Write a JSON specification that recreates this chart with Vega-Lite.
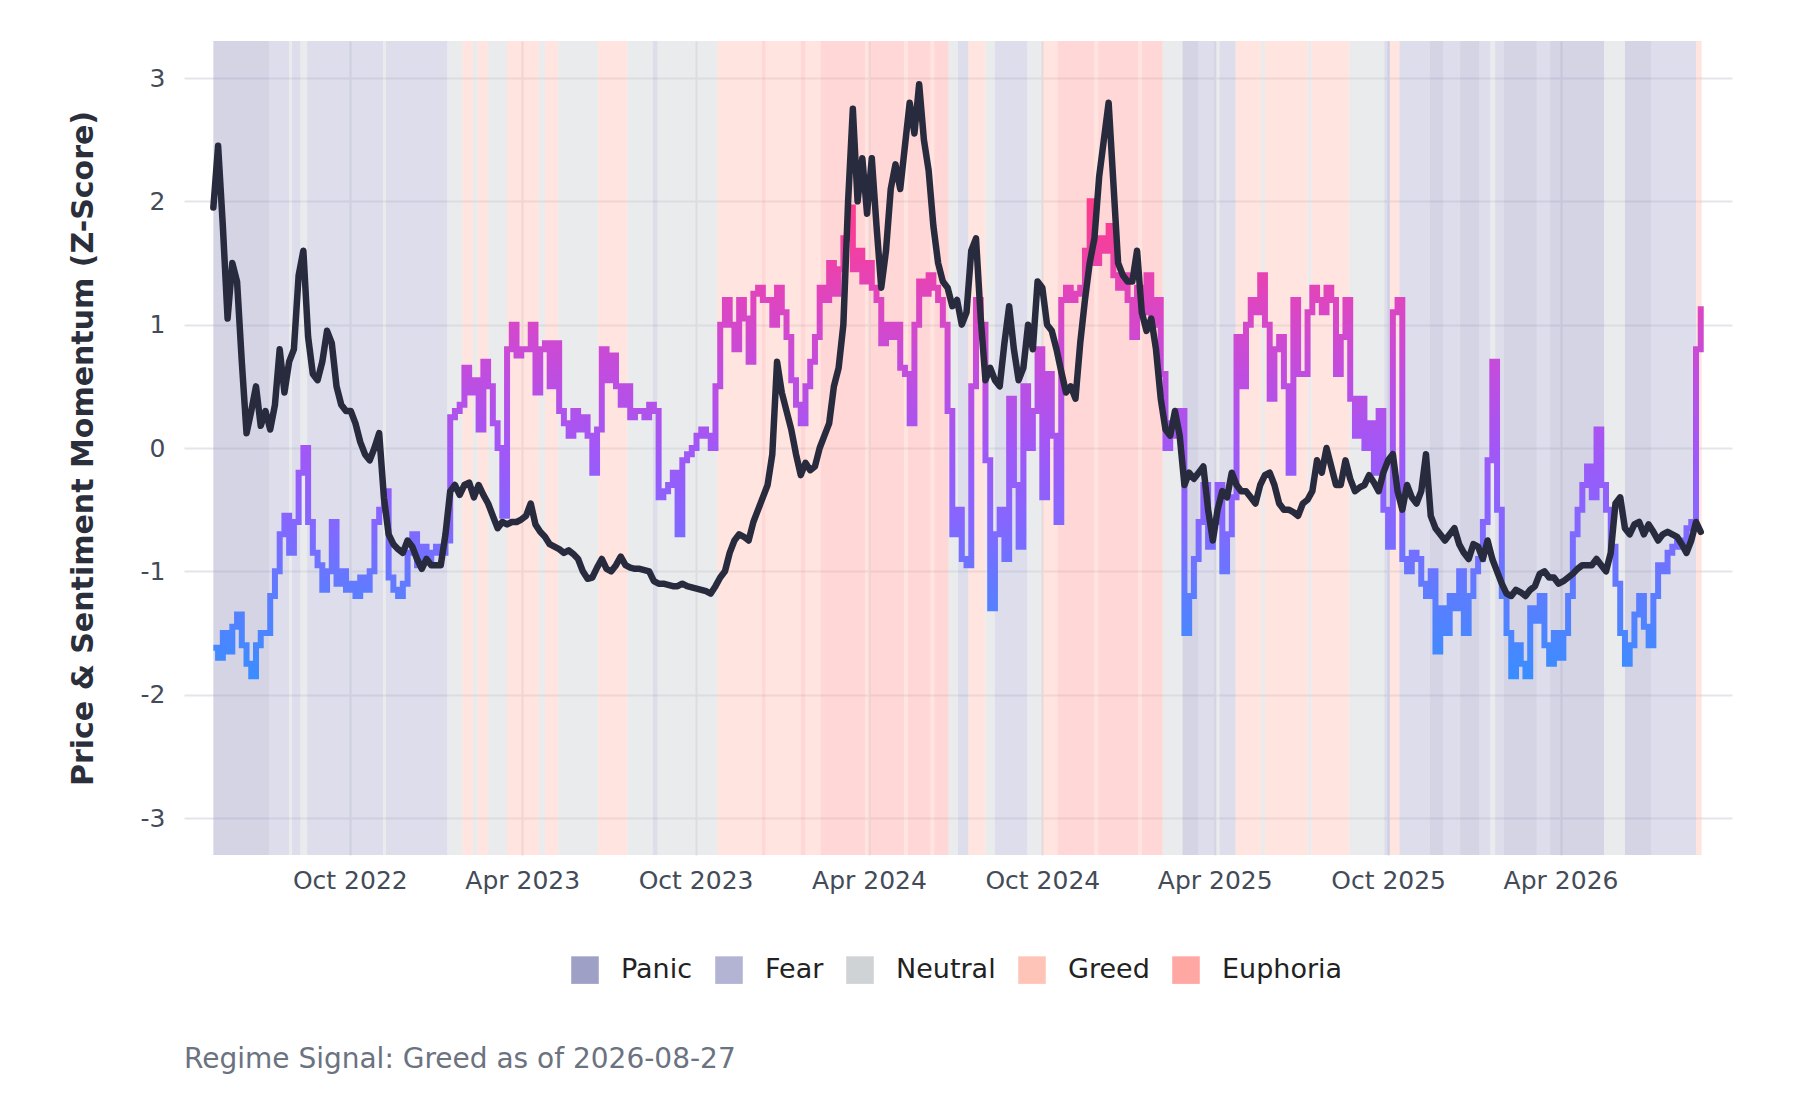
{
  "$schema": "https://vega.github.io/schema/vega-lite/v6.json",
  "width": 1548,
  "height": 814,
  "autosize": {"type": "none"},
  "padding": {"left": 184, "top": 41, "right": 68, "bottom": 245},
  "background": "white",
  "title": {
    "text": "Regime Signal: Greed as of 2026-08-27",
    "orient": "bottom", "anchor": "start", "frame": "group", "offset": 62,
    "fontSize": 28, "fontWeight": "normal", "color": "#6b7280", "font": "DejaVu Sans"
  },
  "datasets": {
    "series": [
      {"d":"2022-05-10","p":1.95,"s":-1.62},{"d":"2022-05-15","p":2.45,"s":-1.7},{"d":"2022-05-20","p":1.8,"s":-1.5},{"d":"2022-05-25","p":1.05,"s":-1.65},{"d":"2022-05-30","p":1.5,"s":-1.45},
      {"d":"2022-06-04","p":1.35,"s":-1.35},{"d":"2022-06-09","p":0.7,"s":-1.6},{"d":"2022-06-14","p":0.12,"s":-1.75},{"d":"2022-06-19","p":0.3,"s":-1.85},{"d":"2022-06-24","p":0.5,"s":-1.6},{"d":"2022-06-29","p":0.18,"s":-1.5},
      {"d":"2022-07-04","p":0.3,"s":-1.5},{"d":"2022-07-09","p":0.15,"s":-1.2},{"d":"2022-07-14","p":0.35,"s":-1.0},{"d":"2022-07-19","p":0.8,"s":-0.7},{"d":"2022-07-24","p":0.45,"s":-0.55},{"d":"2022-07-29","p":0.7,"s":-0.85},
      {"d":"2022-08-03","p":0.8,"s":-0.6},{"d":"2022-08-08","p":1.4,"s":-0.2},{"d":"2022-08-13","p":1.6,"s":0.0},{"d":"2022-08-18","p":0.9,"s":-0.6},{"d":"2022-08-23","p":0.6,"s":-0.85},{"d":"2022-08-28","p":0.55,"s":-0.95},
      {"d":"2022-09-02","p":0.7,"s":-1.15},{"d":"2022-09-07","p":0.95,"s":-1.0},{"d":"2022-09-12","p":0.85,"s":-0.6},{"d":"2022-09-17","p":0.5,"s":-1.1},{"d":"2022-09-22","p":0.35,"s":-1.0},{"d":"2022-09-27","p":0.3,"s":-1.15},
      {"d":"2022-10-02","p":0.3,"s":-1.1},{"d":"2022-10-07","p":0.2,"s":-1.2},{"d":"2022-10-12","p":0.05,"s":-1.05},{"d":"2022-10-17","p":-0.05,"s":-1.15},{"d":"2022-10-22","p":-0.1,"s":-1.0},{"d":"2022-10-27","p":0.0,"s":-0.6},
      {"d":"2022-11-01","p":0.12,"s":-0.5},{"d":"2022-11-06","p":-0.4,"s":-0.35},{"d":"2022-11-11","p":-0.7,"s":-1.05},{"d":"2022-11-16","p":-0.78,"s":-1.15},{"d":"2022-11-21","p":-0.82,"s":-1.2},{"d":"2022-11-26","p":-0.85,"s":-1.1},
      {"d":"2022-12-01","p":-0.75,"s":-0.85},{"d":"2022-12-06","p":-0.8,"s":-0.7},{"d":"2022-12-11","p":-0.9,"s":-0.95},{"d":"2022-12-16","p":-0.98,"s":-0.8},{"d":"2022-12-21","p":-0.9,"s":-0.9},{"d":"2022-12-26","p":-0.95,"s":-0.85},{"d":"2022-12-31","p":-0.95,"s":-0.8},
      {"d":"2023-01-05","p":-0.95,"s":-0.85},{"d":"2023-01-10","p":-0.7,"s":-0.75},{"d":"2023-01-15","p":-0.35,"s":0.25},{"d":"2023-01-20","p":-0.3,"s":0.3},{"d":"2023-01-25","p":-0.38,"s":0.35},{"d":"2023-01-30","p":-0.3,"s":0.65},
      {"d":"2023-02-04","p":-0.28,"s":0.45},{"d":"2023-02-09","p":-0.4,"s":0.55},{"d":"2023-02-14","p":-0.3,"s":0.15},{"d":"2023-02-19","p":-0.38,"s":0.7},{"d":"2023-02-24","p":-0.45,"s":0.5},
      {"d":"2023-03-01","p":-0.55,"s":0.2},{"d":"2023-03-06","p":-0.65,"s":0.0},{"d":"2023-03-11","p":-0.6,"s":-0.55},{"d":"2023-03-16","p":-0.62,"s":0.8},{"d":"2023-03-21","p":-0.6,"s":1.0},{"d":"2023-03-26","p":-0.6,"s":0.75},{"d":"2023-03-31","p":-0.58,"s":0.8},
      {"d":"2023-04-05","p":-0.55,"s":0.8},{"d":"2023-04-10","p":-0.45,"s":1.0},{"d":"2023-04-15","p":-0.62,"s":0.45},{"d":"2023-04-20","p":-0.68,"s":0.8},{"d":"2023-04-25","p":-0.72,"s":0.85},{"d":"2023-04-30","p":-0.78,"s":0.5},
      {"d":"2023-05-05","p":-0.8,"s":0.85},{"d":"2023-05-10","p":-0.82,"s":0.3},{"d":"2023-05-15","p":-0.85,"s":0.2},{"d":"2023-05-20","p":-0.83,"s":0.1},{"d":"2023-05-25","p":-0.86,"s":0.3},{"d":"2023-05-30","p":-0.9,"s":0.15},
      {"d":"2023-06-04","p":-1.0,"s":0.25},{"d":"2023-06-09","p":-1.06,"s":0.1},{"d":"2023-06-14","p":-1.05,"s":-0.2},{"d":"2023-06-19","p":-0.97,"s":0.15},{"d":"2023-06-24","p":-0.9,"s":0.8},{"d":"2023-06-29","p":-0.98,"s":0.55},
      {"d":"2023-07-04","p":-1.0,"s":0.75},{"d":"2023-07-09","p":-0.95,"s":0.5},{"d":"2023-07-14","p":-0.88,"s":0.35},{"d":"2023-07-19","p":-0.95,"s":0.5},{"d":"2023-07-24","p":-0.97,"s":0.25},{"d":"2023-07-29","p":-0.98,"s":0.3},
      {"d":"2023-08-03","p":-0.98,"s":0.3},{"d":"2023-08-08","p":-0.99,"s":0.25},{"d":"2023-08-13","p":-1.0,"s":0.35},{"d":"2023-08-18","p":-1.08,"s":0.3},{"d":"2023-08-23","p":-1.1,"s":-0.4},{"d":"2023-08-28","p":-1.1,"s":-0.35},
      {"d":"2023-09-02","p":-1.11,"s":-0.3},{"d":"2023-09-07","p":-1.12,"s":-0.2},{"d":"2023-09-12","p":-1.12,"s":-0.7},{"d":"2023-09-17","p":-1.1,"s":-0.1},{"d":"2023-09-22","p":-1.12,"s":-0.05},{"d":"2023-09-27","p":-1.13,"s":0.0},
      {"d":"2023-10-02","p":-1.14,"s":0.1},{"d":"2023-10-07","p":-1.15,"s":0.15},{"d":"2023-10-12","p":-1.16,"s":0.1},{"d":"2023-10-17","p":-1.18,"s":0.0},{"d":"2023-10-22","p":-1.12,"s":0.5},{"d":"2023-10-27","p":-1.05,"s":1.0},
      {"d":"2023-11-01","p":-1.0,"s":1.2},{"d":"2023-11-06","p":-0.85,"s":1.0},{"d":"2023-11-11","p":-0.75,"s":0.8},{"d":"2023-11-16","p":-0.7,"s":1.2},{"d":"2023-11-21","p":-0.72,"s":1.05},{"d":"2023-11-26","p":-0.75,"s":0.7},
      {"d":"2023-12-01","p":-0.6,"s":1.25},{"d":"2023-12-06","p":-0.5,"s":1.3},{"d":"2023-12-11","p":-0.4,"s":1.2},{"d":"2023-12-16","p":-0.3,"s":1.2},{"d":"2023-12-21","p":-0.05,"s":1.0},{"d":"2023-12-26","p":0.7,"s":1.3},{"d":"2023-12-31","p":0.45,"s":1.1},
      {"d":"2024-01-05","p":0.3,"s":0.9},{"d":"2024-01-10","p":0.15,"s":0.55},{"d":"2024-01-15","p":-0.05,"s":0.35},{"d":"2024-01-20","p":-0.22,"s":0.2},{"d":"2024-01-25","p":-0.12,"s":0.5},{"d":"2024-01-30","p":-0.18,"s":0.7},
      {"d":"2024-02-04","p":-0.15,"s":0.9},{"d":"2024-02-09","p":0.0,"s":1.3},{"d":"2024-02-14","p":0.1,"s":1.2},{"d":"2024-02-19","p":0.2,"s":1.5},{"d":"2024-02-24","p":0.5,"s":1.25},{"d":"2024-02-29","p":0.65,"s":1.45},
      {"d":"2024-03-05","p":1.0,"s":1.7},{"d":"2024-03-10","p":2.0,"s":1.95},{"d":"2024-03-15","p":2.75,"s":1.45},{"d":"2024-03-20","p":2.0,"s":1.6},{"d":"2024-03-25","p":2.35,"s":1.35},{"d":"2024-03-30","p":1.9,"s":1.5},
      {"d":"2024-04-04","p":2.35,"s":1.3},{"d":"2024-04-09","p":1.8,"s":1.2},{"d":"2024-04-14","p":1.3,"s":0.85},{"d":"2024-04-19","p":1.6,"s":1.0},{"d":"2024-04-24","p":2.1,"s":0.9},{"d":"2024-04-29","p":2.3,"s":1.0},
      {"d":"2024-05-04","p":2.1,"s":0.65},{"d":"2024-05-09","p":2.45,"s":0.6},{"d":"2024-05-14","p":2.8,"s":0.2},{"d":"2024-05-19","p":2.55,"s":1.0},{"d":"2024-05-24","p":2.95,"s":1.35},{"d":"2024-05-29","p":2.5,"s":1.25},
      {"d":"2024-06-03","p":2.25,"s":1.4},{"d":"2024-06-08","p":1.8,"s":1.3},{"d":"2024-06-13","p":1.5,"s":1.2},{"d":"2024-06-18","p":1.35,"s":1.0},{"d":"2024-06-23","p":1.3,"s":0.3},{"d":"2024-06-28","p":1.15,"s":-0.7},
      {"d":"2024-07-03","p":1.2,"s":-0.5},{"d":"2024-07-08","p":1.0,"s":-0.9},{"d":"2024-07-13","p":1.1,"s":-0.95},{"d":"2024-07-18","p":1.6,"s":0.5},{"d":"2024-07-23","p":1.7,"s":1.2},{"d":"2024-07-28","p":1.05,"s":1.0},
      {"d":"2024-08-02","p":0.55,"s":-0.1},{"d":"2024-08-07","p":0.65,"s":-1.3},{"d":"2024-08-12","p":0.55,"s":-0.7},{"d":"2024-08-17","p":0.5,"s":-0.5},{"d":"2024-08-22","p":0.85,"s":-0.9},{"d":"2024-08-27","p":1.15,"s":0.4},
      {"d":"2024-09-01","p":0.8,"s":-0.3},{"d":"2024-09-06","p":0.55,"s":-0.8},{"d":"2024-09-11","p":0.65,"s":0.5},{"d":"2024-09-16","p":1.0,"s":0.0},{"d":"2024-09-21","p":0.8,"s":0.3},{"d":"2024-09-26","p":1.35,"s":0.8},
      {"d":"2024-10-01","p":1.3,"s":-0.4},{"d":"2024-10-06","p":1.0,"s":0.6},{"d":"2024-10-11","p":0.95,"s":0.1},{"d":"2024-10-16","p":0.8,"s":-0.6},{"d":"2024-10-21","p":0.62,"s":1.2},{"d":"2024-10-26","p":0.45,"s":1.3},{"d":"2024-10-31","p":0.5,"s":1.2},
      {"d":"2024-11-05","p":0.4,"s":1.25},{"d":"2024-11-10","p":0.85,"s":1.3},{"d":"2024-11-15","p":1.2,"s":1.6},{"d":"2024-11-20","p":1.5,"s":2.0},{"d":"2024-11-25","p":1.7,"s":1.5},{"d":"2024-11-30","p":2.2,"s":1.7},
      {"d":"2024-12-05","p":2.5,"s":1.6},{"d":"2024-12-10","p":2.8,"s":1.8},{"d":"2024-12-15","p":2.15,"s":1.4},{"d":"2024-12-20","p":1.5,"s":1.3},{"d":"2024-12-25","p":1.4,"s":1.4},{"d":"2024-12-30","p":1.35,"s":1.2},
      {"d":"2025-01-04","p":1.35,"s":0.9},{"d":"2025-01-09","p":1.6,"s":1.3},{"d":"2025-01-14","p":1.1,"s":1.1},{"d":"2025-01-19","p":0.95,"s":1.4},{"d":"2025-01-24","p":1.05,"s":1.0},{"d":"2025-01-29","p":0.8,"s":1.2},
      {"d":"2025-02-03","p":0.4,"s":0.6},{"d":"2025-02-08","p":0.15,"s":0.0},{"d":"2025-02-13","p":0.1,"s":0.2},{"d":"2025-02-18","p":0.3,"s":0.1},{"d":"2025-02-23","p":0.1,"s":0.3},{"d":"2025-02-28","p":-0.3,"s":-1.5},
      {"d":"2025-03-05","p":-0.2,"s":-1.2},{"d":"2025-03-10","p":-0.25,"s":-0.9},{"d":"2025-03-15","p":-0.2,"s":-0.6},{"d":"2025-03-20","p":-0.15,"s":-0.3},{"d":"2025-03-25","p":-0.5,"s":-0.8},{"d":"2025-03-30","p":-0.75,"s":-0.6},
      {"d":"2025-04-04","p":-0.5,"s":-0.3},{"d":"2025-04-09","p":-0.35,"s":-1.0},{"d":"2025-04-14","p":-0.4,"s":-0.7},{"d":"2025-04-19","p":-0.2,"s":-0.4},{"d":"2025-04-24","p":-0.3,"s":0.9},{"d":"2025-04-29","p":-0.35,"s":0.5},
      {"d":"2025-05-04","p":-0.35,"s":1.0},{"d":"2025-05-09","p":-0.4,"s":1.2},{"d":"2025-05-14","p":-0.45,"s":1.1},{"d":"2025-05-19","p":-0.3,"s":1.4},{"d":"2025-05-24","p":-0.22,"s":1.0},{"d":"2025-05-29","p":-0.2,"s":0.4},
      {"d":"2025-06-03","p":-0.3,"s":0.8},{"d":"2025-06-08","p":-0.45,"s":0.9},{"d":"2025-06-13","p":-0.5,"s":0.5},{"d":"2025-06-18","p":-0.5,"s":-0.2},{"d":"2025-06-23","p":-0.52,"s":1.2},{"d":"2025-06-28","p":-0.55,"s":0.6},
      {"d":"2025-07-03","p":-0.45,"s":0.6},{"d":"2025-07-08","p":-0.42,"s":1.1},{"d":"2025-07-13","p":-0.35,"s":1.3},{"d":"2025-07-18","p":-0.1,"s":1.2},{"d":"2025-07-23","p":-0.2,"s":1.1},{"d":"2025-07-28","p":0.0,"s":1.3},
      {"d":"2025-08-02","p":-0.15,"s":1.2},{"d":"2025-08-07","p":-0.3,"s":0.6},{"d":"2025-08-12","p":-0.3,"s":0.9},{"d":"2025-08-17","p":-0.1,"s":1.2},{"d":"2025-08-22","p":-0.25,"s":0.4},{"d":"2025-08-27","p":-0.35,"s":0.1},
      {"d":"2025-09-01","p":-0.32,"s":0.4},{"d":"2025-09-06","p":-0.3,"s":0.0},{"d":"2025-09-11","p":-0.22,"s":0.2},{"d":"2025-09-16","p":-0.28,"s":-0.2},{"d":"2025-09-21","p":-0.35,"s":0.3},{"d":"2025-09-26","p":-0.2,"s":-0.5},
      {"d":"2025-10-01","p":-0.1,"s":-0.8},{"d":"2025-10-06","p":-0.05,"s":1.1},{"d":"2025-10-11","p":-0.35,"s":1.2},{"d":"2025-10-16","p":-0.5,"s":-0.9},{"d":"2025-10-21","p":-0.3,"s":-1.0},{"d":"2025-10-26","p":-0.4,"s":-0.85},{"d":"2025-10-31","p":-0.45,"s":-0.9},
      {"d":"2025-11-05","p":-0.35,"s":-1.1},{"d":"2025-11-10","p":-0.05,"s":-1.2},{"d":"2025-11-15","p":-0.55,"s":-1.0},{"d":"2025-11-20","p":-0.65,"s":-1.65},{"d":"2025-11-25","p":-0.7,"s":-1.3},{"d":"2025-11-30","p":-0.75,"s":-1.5},
      {"d":"2025-12-05","p":-0.7,"s":-1.2},{"d":"2025-12-10","p":-0.65,"s":-1.3},{"d":"2025-12-15","p":-0.78,"s":-1.0},{"d":"2025-12-20","p":-0.85,"s":-1.5},{"d":"2025-12-25","p":-0.9,"s":-1.2},{"d":"2025-12-30","p":-0.78,"s":-1.0},
      {"d":"2026-01-04","p":-0.8,"s":-0.9},{"d":"2026-01-09","p":-0.9,"s":-0.6},{"d":"2026-01-14","p":-0.75,"s":-0.1},{"d":"2026-01-19","p":-0.9,"s":0.7},{"d":"2026-01-24","p":-1.0,"s":-0.5},{"d":"2026-01-29","p":-1.1,"s":-1.2},
      {"d":"2026-02-03","p":-1.18,"s":-1.5},{"d":"2026-02-08","p":-1.2,"s":-1.85},{"d":"2026-02-13","p":-1.15,"s":-1.6},{"d":"2026-02-18","p":-1.17,"s":-1.75},{"d":"2026-02-23","p":-1.2,"s":-1.85},{"d":"2026-02-28","p":-1.15,"s":-1.3},
      {"d":"2026-03-05","p":-1.12,"s":-1.4},{"d":"2026-03-10","p":-1.02,"s":-1.2},{"d":"2026-03-15","p":-1.0,"s":-1.6},{"d":"2026-03-20","p":-1.05,"s":-1.75},{"d":"2026-03-25","p":-1.05,"s":-1.5},{"d":"2026-03-30","p":-1.1,"s":-1.7},
      {"d":"2026-04-04","p":-1.08,"s":-1.5},{"d":"2026-04-09","p":-1.05,"s":-1.2},{"d":"2026-04-14","p":-1.02,"s":-0.7},{"d":"2026-04-19","p":-0.98,"s":-0.5},{"d":"2026-04-24","p":-0.95,"s":-0.3},{"d":"2026-04-29","p":-0.95,"s":-0.15},
      {"d":"2026-05-04","p":-0.95,"s":-0.4},{"d":"2026-05-09","p":-0.9,"s":0.15},{"d":"2026-05-14","p":-0.95,"s":-0.3},{"d":"2026-05-19","p":-1.0,"s":-0.5},{"d":"2026-05-24","p":-0.85,"s":-0.8},{"d":"2026-05-29","p":-0.45,"s":-1.1},
      {"d":"2026-06-03","p":-0.4,"s":-1.5},{"d":"2026-06-08","p":-0.65,"s":-1.75},{"d":"2026-06-13","p":-0.7,"s":-1.6},{"d":"2026-06-18","p":-0.62,"s":-1.35},{"d":"2026-06-23","p":-0.6,"s":-1.2},{"d":"2026-06-28","p":-0.7,"s":-1.45},
      {"d":"2026-07-03","p":-0.62,"s":-1.6},{"d":"2026-07-08","p":-0.68,"s":-1.2},{"d":"2026-07-13","p":-0.75,"s":-0.95},{"d":"2026-07-18","p":-0.7,"s":-1.0},{"d":"2026-07-23","p":-0.68,"s":-0.85},{"d":"2026-07-28","p":-0.7,"s":-0.8},
      {"d":"2026-08-02","p":-0.72,"s":-0.75},{"d":"2026-08-07","p":-0.78,"s":-0.8},{"d":"2026-08-12","p":-0.85,"s":-0.65},{"d":"2026-08-17","p":-0.75,"s":-0.6},{"d":"2026-08-22","p":-0.6,"s":0.8},{"d":"2026-08-27","p":-0.68,"s":1.15}
    ],
    "bands": [
      {"start":"2022-05-10","end":"2022-07-08","regime":"Panic"},
      {"start":"2022-07-08","end":"2022-07-29","regime":"Fear"},
      {"start":"2022-07-29","end":"2022-08-01","regime":"Neutral"},
      {"start":"2022-08-01","end":"2022-08-10","regime":"Fear"},
      {"start":"2022-08-10","end":"2022-08-17","regime":"Neutral"},
      {"start":"2022-08-17","end":"2022-11-05","regime":"Fear"},
      {"start":"2022-11-05","end":"2022-11-08","regime":"Neutral"},
      {"start":"2022-11-08","end":"2023-01-12","regime":"Fear"},
      {"start":"2023-01-12","end":"2023-01-28","regime":"Neutral"},
      {"start":"2023-01-28","end":"2023-02-08","regime":"Greed"},
      {"start":"2023-02-08","end":"2023-02-13","regime":"Neutral"},
      {"start":"2023-02-13","end":"2023-02-24","regime":"Greed"},
      {"start":"2023-02-24","end":"2023-03-16","regime":"Neutral"},
      {"start":"2023-03-16","end":"2023-04-19","regime":"Greed"},
      {"start":"2023-04-19","end":"2023-04-25","regime":"Neutral"},
      {"start":"2023-04-25","end":"2023-05-09","regime":"Greed"},
      {"start":"2023-05-09","end":"2023-06-20","regime":"Neutral"},
      {"start":"2023-06-20","end":"2023-07-21","regime":"Greed"},
      {"start":"2023-07-21","end":"2023-08-17","regime":"Neutral"},
      {"start":"2023-08-17","end":"2023-08-22","regime":"Fear"},
      {"start":"2023-08-22","end":"2023-10-24","regime":"Neutral"},
      {"start":"2023-10-24","end":"2023-12-10","regime":"Greed"},
      {"start":"2023-12-10","end":"2023-12-14","regime":"Euphoria"},
      {"start":"2023-12-14","end":"2024-01-20","regime":"Greed"},
      {"start":"2024-01-20","end":"2024-01-25","regime":"Euphoria"},
      {"start":"2024-01-25","end":"2024-02-10","regime":"Greed"},
      {"start":"2024-02-10","end":"2024-03-28","regime":"Euphoria"},
      {"start":"2024-03-28","end":"2024-04-02","regime":"Greed"},
      {"start":"2024-04-02","end":"2024-05-08","regime":"Euphoria"},
      {"start":"2024-05-08","end":"2024-05-12","regime":"Greed"},
      {"start":"2024-05-12","end":"2024-06-05","regime":"Euphoria"},
      {"start":"2024-06-05","end":"2024-06-09","regime":"Greed"},
      {"start":"2024-06-09","end":"2024-06-24","regime":"Euphoria"},
      {"start":"2024-06-24","end":"2024-07-04","regime":"Neutral"},
      {"start":"2024-07-04","end":"2024-07-15","regime":"Fear"},
      {"start":"2024-07-15","end":"2024-08-02","regime":"Greed"},
      {"start":"2024-08-02","end":"2024-08-12","regime":"Neutral"},
      {"start":"2024-08-12","end":"2024-09-15","regime":"Fear"},
      {"start":"2024-09-15","end":"2024-10-01","regime":"Neutral"},
      {"start":"2024-10-01","end":"2024-10-17","regime":"Greed"},
      {"start":"2024-10-17","end":"2024-11-25","regime":"Euphoria"},
      {"start":"2024-11-25","end":"2024-11-29","regime":"Greed"},
      {"start":"2024-11-29","end":"2025-01-10","regime":"Euphoria"},
      {"start":"2025-01-10","end":"2025-01-14","regime":"Greed"},
      {"start":"2025-01-14","end":"2025-02-05","regime":"Euphoria"},
      {"start":"2025-02-05","end":"2025-02-26","regime":"Neutral"},
      {"start":"2025-02-26","end":"2025-03-15","regime":"Panic"},
      {"start":"2025-03-15","end":"2025-04-02","regime":"Fear"},
      {"start":"2025-04-02","end":"2025-04-06","regime":"Neutral"},
      {"start":"2025-04-06","end":"2025-04-23","regime":"Fear"},
      {"start":"2025-04-23","end":"2025-05-20","regime":"Greed"},
      {"start":"2025-05-20","end":"2025-05-24","regime":"Neutral"},
      {"start":"2025-05-24","end":"2025-07-08","regime":"Greed"},
      {"start":"2025-07-08","end":"2025-07-12","regime":"Neutral"},
      {"start":"2025-07-12","end":"2025-08-21","regime":"Greed"},
      {"start":"2025-08-21","end":"2025-09-27","regime":"Neutral"},
      {"start":"2025-09-27","end":"2025-10-03","regime":"Fear"},
      {"start":"2025-10-03","end":"2025-10-13","regime":"Greed"},
      {"start":"2025-10-13","end":"2025-11-14","regime":"Fear"},
      {"start":"2025-11-14","end":"2025-11-28","regime":"Panic"},
      {"start":"2025-11-28","end":"2025-12-16","regime":"Fear"},
      {"start":"2025-12-16","end":"2026-01-05","regime":"Panic"},
      {"start":"2026-01-05","end":"2026-01-17","regime":"Fear"},
      {"start":"2026-01-17","end":"2026-01-22","regime":"Neutral"},
      {"start":"2026-01-22","end":"2026-01-31","regime":"Fear"},
      {"start":"2026-01-31","end":"2026-03-07","regime":"Panic"},
      {"start":"2026-03-07","end":"2026-03-21","regime":"Fear"},
      {"start":"2026-03-21","end":"2026-05-17","regime":"Panic"},
      {"start":"2026-05-17","end":"2026-06-08","regime":"Neutral"},
      {"start":"2026-06-08","end":"2026-07-06","regime":"Panic"},
      {"start":"2026-07-06","end":"2026-08-22","regime":"Fear"},
      {"start":"2026-08-22","end":"2026-08-28","regime":"Greed"}
    ]
  },
  "layer": [
    {
      "data": {"name": "bands"},
      "mark": {"type": "rect", "opacity": 0.45},
      "encoding": {
        "x": {
          "field": "start", "type": "temporal",
          "scale": {"domain": [{"year": 2022, "month": 4, "date": 9}, {"year": 2026, "month": 9, "date": 29}]},
          "axis": {
            "title": null, "format": "%b %Y",
            "values": [
              {"year": 2022, "month": 10, "date": 1}, {"year": 2023, "month": 4, "date": 1},
              {"year": 2023, "month": 10, "date": 1}, {"year": 2024, "month": 4, "date": 1},
              {"year": 2024, "month": 10, "date": 1}, {"year": 2025, "month": 4, "date": 1},
              {"year": 2025, "month": 10, "date": 1}, {"year": 2026, "month": 4, "date": 1}
            ],
            "labelFont": "DejaVu Sans", "labelFontSize": 25, "labelColor": "#444b58",
            "ticks": false, "tickSize": 0, "domain": false, "labelPadding": 13,
            "grid": true, "gridColor": "#e3e5ea", "gridWidth": 2, "labelFlush": false
          }
        },
        "x2": {"field": "end"},
        "color": {
          "field": "regime", "type": "nominal",
          "scale": {
            "domain": ["Panic", "Fear", "Neutral", "Greed", "Euphoria"],
            "range": ["#9fa0c6", "#b3b3d3", "#d0d3d6", "#ffc4b8", "#ffa7a3"]
          },
          "legend": {
            "title": null, "orient": "none", "legendX": 387, "legendY": 915,
            "direction": "horizontal", "symbolType": "square", "symbolSize": 760,
            "symbolOpacity": 1, "symbolStrokeWidth": 0,
            "labelFont": "DejaVu Sans", "labelFontSize": 27, "labelColor": "#222222",
            "labelOffset": 22, "columnPadding": 22
          }
        }
      }
    },
    {
      "data": {"name": "series"},
      "mark": {
        "type": "line", "strokeWidth": 6, "strokeJoin": "miter", "interpolate": "step-after",
        "stroke": {
          "gradient": "linear", "x1": 0, "y1": 1, "x2": 0, "y2": 0,
          "stops": [
            {"offset": 0, "color": "#3a8dff"},
            {"offset": 0.17, "color": "#5c7dff"},
            {"offset": 0.325, "color": "#8566ff"},
            {"offset": 0.48, "color": "#a157f6"},
            {"offset": 0.636, "color": "#c04de0"},
            {"offset": 0.792, "color": "#de45c0"},
            {"offset": 0.922, "color": "#f53f9c"},
            {"offset": 1, "color": "#ff3b8a"}
          ]
        }
      },
      "encoding": {
        "x": {"field": "d", "type": "temporal", "scale": {"domain": [{"year": 2022, "month": 4, "date": 9}, {"year": 2026, "month": 9, "date": 29}]}},
        "y": {
          "field": "s", "type": "quantitative",
          "scale": {"domain": [-3.3, 3.3], "nice": false, "zero": false},
          "axis": {
            "title": "Price & Sentiment Momentum (Z-Score)", "values": [-3, -2, -1, 0, 1, 2, 3],
            "labelExpr": "'' + datum.value",
            "labelFont": "DejaVu Sans", "labelFontSize": 25, "labelColor": "#444b58",
            "ticks": false, "tickSize": 0, "domain": false, "labelPadding": 19,
            "grid": true, "gridColor": "#e3e5ea", "gridWidth": 2,
            "titleFont": "DejaVu Sans", "titleFontSize": 30, "titleFontWeight": "bold",
            "titleColor": "#2b2e3b", "titlePadding": 42
          }
        }
      }
    },
    {
      "data": {"name": "series"},
      "mark": {"type": "line", "strokeWidth": 6.5, "color": "#282b3e", "strokeJoin": "round", "strokeCap": "round"},
      "encoding": {
        "x": {"field": "d", "type": "temporal", "scale": {"domain": [{"year": 2022, "month": 4, "date": 9}, {"year": 2026, "month": 9, "date": 29}]}},
        "y": {
          "field": "p", "type": "quantitative",
          "scale": {"domain": [-3.3, 3.3], "nice": false, "zero": false},
          "axis": {
            "title": "Price & Sentiment Momentum (Z-Score)", "values": [-3, -2, -1, 0, 1, 2, 3],
            "labelExpr": "'' + datum.value",
            "labelFont": "DejaVu Sans", "labelFontSize": 25, "labelColor": "#444b58",
            "ticks": false, "tickSize": 0, "domain": false, "labelPadding": 19,
            "grid": true, "gridColor": "#e3e5ea", "gridWidth": 2,
            "titleFont": "DejaVu Sans", "titleFontSize": 30, "titleFontWeight": "bold",
            "titleColor": "#2b2e3b", "titlePadding": 42
          }
        }
      }
    }
  ],
  "config": {"view": {"stroke": null}, "font": "DejaVu Sans"}
}
